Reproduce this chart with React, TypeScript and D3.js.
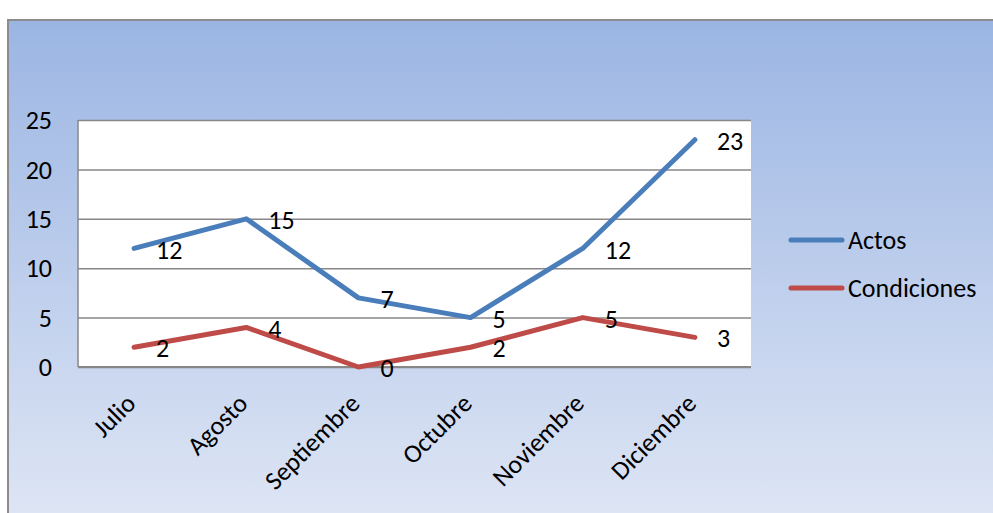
import { useEffect, useRef } from 'react';
import * as d3 from 'd3';

const months = ['Julio', 'Agosto', 'Septiembre', 'Octubre', 'Noviembre', 'Diciembre'];
const actos = [12, 15, 7, 5, 12, 23];
const condiciones = [2, 4, 0, 2, 5, 3];
const yTicks = [0, 5, 10, 15, 20, 25];
const seriesNames = ['Actos', 'Condiciones'];
const seriesColors = ['#4a7ebb', '#be4b48'];

export default function App() {
  const svgRef = useRef<SVGSVGElement>(null);

  useEffect(() => {
    if (!svgRef.current) return;
    const W = 993;
    const H = 513;
    const M = { top: 120, right: 242, bottom: 146, left: 78 };
    const font = 'Carlito, Lato, sans-serif';
    const fs = 26;

    const svg = d3.select(svgRef.current).attr('width', W).attr('height', H);
    svg.selectAll('*').remove();

    // background
    const defs = svg.append('defs');
    const grad = defs.append('linearGradient').attr('id', 'bg')
      .attr('x1', 0).attr('y1', 0).attr('x2', 0).attr('y2', 1);
    grad.append('stop').attr('offset', '0%').attr('stop-color', '#9bb5e3');
    grad.append('stop').attr('offset', '100%').attr('stop-color', '#e0e7f5');
    svg.append('rect').attr('x', 0).attr('y', 0).attr('width', W).attr('height', H).style('fill', '#fff');
    svg.append('rect').attr('x', 8).attr('y', 20).attr('width', W + 10).attr('height', H)
      .style('fill', 'url(#bg)').style('stroke', '#8c8c8c').style('stroke-width', 2);

    const x = d3.scaleBand().domain(months).range([M.left, W - M.right]);
    const y = d3.scaleLinear().domain([0, 25]).range([H - M.bottom, M.top]);
    const cx = (m: string) => (x(m) ?? 0) + x.bandwidth() / 2;

    svg.append('rect').attr('x', M.left).attr('y', M.top)
      .attr('width', W - M.right - M.left).attr('height', H - M.bottom - M.top)
      .style('fill', '#fff');

    // grid
    svg.append('g').attr('transform', `translate(${M.left},0)`)
      .call(d3.axisLeft(y).tickValues(yTicks).tickSize(-(W - M.right - M.left)).tickFormat(() => ''))
      .call(g => g.selectAll('line').style('stroke', '#878787').style('stroke-width', 1.5))
      .call(g => g.select('.domain').remove());

    // axes lines
    svg.append('line').attr('x1', M.left).attr('x2', M.left).attr('y1', M.top).attr('y2', H - M.bottom)
      .style('stroke', '#878787').style('stroke-width', 1.5);
    svg.append('line').attr('x1', M.left).attr('x2', W - M.right).attr('y1', H - M.bottom).attr('y2', H - M.bottom)
      .style('stroke', '#878787').style('stroke-width', 2);

    // y labels
    svg.append('g').selectAll('text').data(yTicks).join('text')
      .attr('x', 52).attr('y', d => y(d)).attr('dy', '0.35em')
      .attr('text-anchor', 'end')
      .style('font-family', font).style('font-size', `${fs}px`).style('fill', '#000')
      .text(d => d);

    // x labels
    svg.append('g').selectAll('text').data(months).join('text')
      .attr('transform', m => `translate(${cx(m) + 3},${H - M.bottom + 38}) rotate(-45)`)
      .attr('text-anchor', 'end')
      .style('font-family', font).style('font-size', `${fs}px`).style('fill', '#000')
      .text(m => m);

    const line = d3.line<number>()
      .x((_, i) => cx(months[i]))
      .y(d => y(d));

    [actos, condiciones].forEach((vals, si) => {
      svg.append('path').datum(vals).attr('d', line)
        .style('fill', 'none').style('stroke', seriesColors[si]).style('stroke-width', 5)
        .style('stroke-linecap', 'round').style('stroke-linejoin', 'round');
    });

    [actos, condiciones].forEach(vals => {
      svg.append('g').selectAll('text').data(vals).join('text')
        .attr('x', (_, i) => cx(months[i]) + 22)
        .attr('y', d => y(d) + 1).attr('dy', '0.35em')
        .style('font-family', font).style('font-size', `${fs}px`).style('fill', '#000')
        .text(d => d);
    });

    // legend
    seriesNames.forEach((name, i) => {
      const ly = 240 + i * 48;
      svg.append('line').attr('x1', 791).attr('x2', 842).attr('y1', ly).attr('y2', ly)
        .style('stroke', seriesColors[i]).style('stroke-width', 5).style('stroke-linecap', 'round');
      svg.append('text').attr('x', 848).attr('y', ly).attr('dy', '0.35em')
        .style('font-family', font).style('font-size', `${fs}px`).style('fill', '#000')
        .text(name);
    });
  }, []);

  return (
    <div style={{ position: 'absolute', left: 0, top: 0 }}>
      <svg ref={svgRef} style={{ display: 'block' }} />
    </div>
  );
}
